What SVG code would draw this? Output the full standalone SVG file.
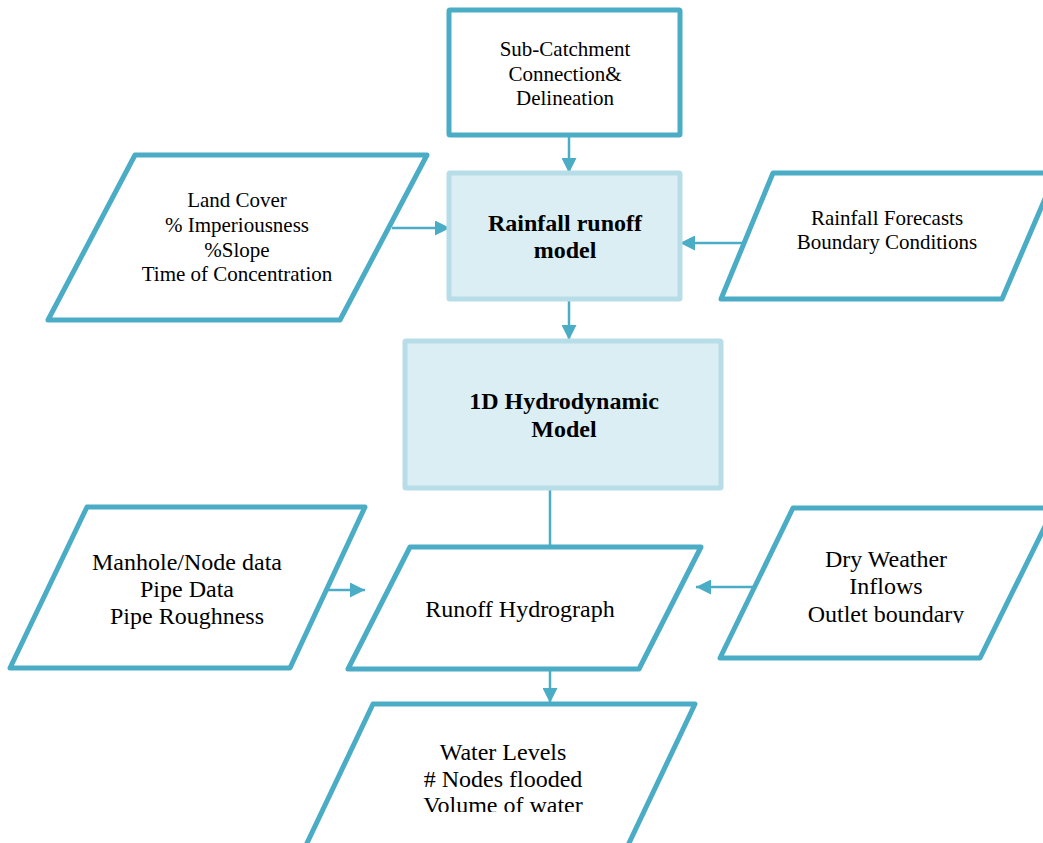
<svg xmlns="http://www.w3.org/2000/svg" width="1043" height="843" viewBox="0 0 1043 843">
  <defs>
    <style>
      .io { fill: #FFFFFF; stroke: #4BACC6; stroke-width: 5; stroke-linejoin: round; }
      .proc { fill: #FFFFFF; stroke: #4BACC6; stroke-width: 5; }
      .model { fill: #DAEEF3; stroke: #B7DDE8; stroke-width: 5; }
      .link { fill: none; stroke: #4BACC6; stroke-width: 2.5; }
      .t { font-family: "Liberation Serif", "Times New Roman", serif; fill: #000000; text-anchor: middle; }
      .s21 { font-size: 21px; }
      .s24 { font-size: 24px; }
      .b { font-size: 24px; font-weight: bold; }
    </style>
    <marker id="head" markerUnits="userSpaceOnUse" markerWidth="15" markerHeight="15" refX="15" refY="7.5" orient="auto">
      <path d="M0,0 L15,7.5 L0,15 Z" fill="#4BACC6"/>
    </marker>
    <clipPath id="clipDry"><rect x="700" y="500" width="343" height="123"/></clipPath>
    <clipPath id="clipWater"><rect x="300" y="700" width="420" height="112"/></clipPath>
  </defs>

  <rect width="1043" height="843" fill="#FFFFFF"/>

  <!-- connectors -->
  <g id="connectors">
    <line class="link" x1="569" y1="135" x2="569" y2="173" marker-end="url(#head)"/>
    <line class="link" x1="569" y1="299" x2="569" y2="340" marker-end="url(#head)"/>
    <line class="link" x1="392" y1="228" x2="450" y2="228" marker-end="url(#head)"/>
    <line class="link" x1="742" y1="243" x2="680" y2="243" marker-end="url(#head)"/>
    <line class="link" x1="550" y1="488" x2="550" y2="547"/>
    <line class="link" x1="328" y1="590" x2="365" y2="590" marker-end="url(#head)"/>
    <line class="link" x1="753" y1="587" x2="696" y2="587" marker-end="url(#head)"/>
    <line class="link" x1="550" y1="669" x2="550" y2="703" marker-end="url(#head)"/>
  </g>

  <!-- Sub-catchment process box -->
  <g id="subcatchment">
    <rect class="proc" x="449" y="10" width="231" height="125" rx="1"/>
    <text class="t s21" x="565" y="56">Sub-Catchment</text>
    <text class="t s21" x="565" y="81">Connection&amp;</text>
    <text class="t s21" x="565" y="105">Delineation</text>
  </g>

  <!-- Rainfall runoff model -->
  <g id="rainfall-runoff">
    <rect class="model" x="449" y="173" width="231" height="126" rx="1"/>
    <text class="t b" x="565" y="231">Rainfall runoff</text>
    <text class="t b" x="565" y="258">model</text>
  </g>

  <!-- 1D hydrodynamic model -->
  <g id="hydrodynamic">
    <rect class="model" x="405" y="341" width="316" height="147" rx="1"/>
    <text class="t b" x="564" y="409">1D Hydrodynamic</text>
    <text class="t b" x="564" y="437">Model</text>
  </g>

  <!-- Land cover inputs -->
  <g id="land-cover">
    <polygon class="io" points="135,155 427,155 340,320 48,320"/>
    <text class="t s21" x="237" y="207">Land Cover</text>
    <text class="t s21" x="237" y="232">% Imperiousness</text>
    <text class="t s21" x="237" y="257">%Slope</text>
    <text class="t s21" x="237" y="281">Time of Concentration</text>
  </g>

  <!-- Rainfall forecasts inputs -->
  <g id="rainfall-forecasts">
    <polygon class="io" points="773,173 1056,173 1002,299 721,299"/>
    <text class="t s21" x="887" y="225">Rainfall Forecasts</text>
    <text class="t s21" x="887" y="249">Boundary Conditions</text>
  </g>

  <!-- Network data inputs -->
  <g id="network-data">
    <polygon class="io" points="87,507 365,507 290,668 10,668"/>
    <text class="t s24" x="187" y="570">Manhole/Node data</text>
    <text class="t s24" x="187" y="597">Pipe Data</text>
    <text class="t s24" x="187" y="624">Pipe Roughness</text>
  </g>

  <!-- Runoff hydrograph -->
  <g id="runoff-hydrograph">
    <polygon class="io" points="410,547 701,547 639,669 348,669"/>
    <text class="t s24" x="520" y="617">Runoff Hydrograph</text>
  </g>

  <!-- Dry weather / boundary inputs -->
  <g id="dry-weather">
    <polygon class="io" points="793,508 1054,508 980,658 720,658"/>
    <g clip-path="url(#clipDry)">
      <text class="t s24" x="886" y="567">Dry Weather</text>
      <text class="t s24" x="886" y="594">Inflows</text>
      <text class="t s24" x="886" y="622">Outlet boundary</text>
    </g>
  </g>

  <!-- Results -->
  <g id="results">
    <polygon class="io" points="373,704 695,704 621,860 299,860"/>
    <g clip-path="url(#clipWater)">
      <text class="t s24" x="503" y="760">Water Levels</text>
      <text class="t s24" x="503" y="787"># Nodes flooded</text>
      <text class="t s24" x="503" y="813">Volume of water</text>
    </g>
  </g>
</svg>
